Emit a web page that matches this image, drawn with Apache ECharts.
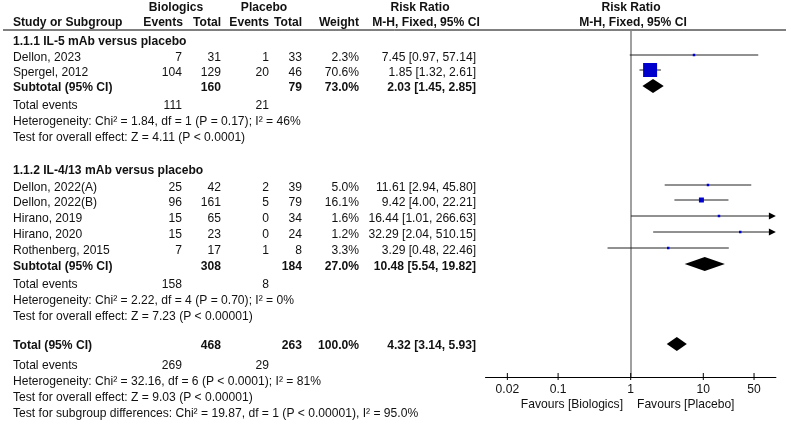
<!DOCTYPE html>
<html><head><meta charset="utf-8">
<script src="https://cdn.jsdelivr.net/npm/echarts@6/dist/echarts.min.js"></script>
<style>html,body{margin:0;padding:0;background:#fff}#c{width:790px;height:423px}</style>
</head><body><div id="c"></div><script>
// ---------- data ----------
const groupTitles = ['1.1.1 IL-5 mAb versus placebo', '1.1.2 IL-4/13 mAb versus placebo'];
const studyNames = ['Dellon, 2023', 'Spergel, 2012', 'Dellon, 2022(A)', 'Dellon, 2022(B)', 'Hirano, 2019', 'Hirano, 2020', 'Rothenberg, 2015'];
const studyGroup = [0, 0, 1, 1, 1, 1, 1];
const bioEvents = [7, 104, 25, 96, 15, 15, 7];
const bioTotal = [31, 129, 42, 161, 65, 23, 17];
const plaEvents = [1, 20, 2, 5, 0, 0, 1];
const plaTotal = [33, 46, 39, 79, 34, 24, 8];
const weights = [2.3, 70.6, 5.0, 16.1, 1.6, 1.2, 3.3];
const rr = [7.45, 1.85, 11.61, 9.42, 16.44, 32.29, 3.29];
const rrLow = [0.97, 1.32, 2.94, 4.00, 1.01, 2.04, 0.48];
const rrHigh = [57.14, 2.61, 45.80, 22.21, 266.63, 510.15, 22.46];

const subBioTotal = [160, 308];
const subPlaTotal = [79, 184];
const subWeight = [73.0, 27.0];
const subRR = [2.03, 10.48];
const subLow = [1.45, 5.54];
const subHigh = [2.85, 19.82];
const subBioEvents = [111, 158];
const subPlaEvents = [21, 8];
const subHet = ['Heterogeneity: Chi² = 1.84, df = 1 (P = 0.17); I² = 46%', 'Heterogeneity: Chi² = 2.22, df = 4 (P = 0.70); I² = 0%'];
const subTest = ['Test for overall effect: Z = 4.11 (P < 0.0001)', 'Test for overall effect: Z = 7.23 (P < 0.00001)'];

const totalBio = 468, totalPla = 263, totalWeight = 100.0;
const totalRR = 4.32, totalLow = 3.14, totalHigh = 5.93;
const totalBioEvents = 269, totalPlaEvents = 29;
const totalHet = 'Heterogeneity: Chi² = 32.16, df = 6 (P < 0.0001); I² = 81%';
const totalTest = 'Test for overall effect: Z = 9.03 (P < 0.00001)';
const subgroupTest = 'Test for subgroup differences: Chi² = 19.87, df = 1 (P < 0.00001), I² = 95.0%';

const tickValues = [0.02, 0.1, 1, 10, 50];
const tickLabels = ['0.02', '0.1', '1', '10', '50'];

// ---------- layout (pixel rows) ----------
const groupTitleY = [42, 171];
const studyRowY = [58, 73, 188, 203, 219, 235, 251];
const subtotalY = [88, 267];
const subEventsY = [106, 285];
const subHetY = [122, 301];
const subTestY = [138, 317];
const totalY = 346, totalEventsY = 366, totalHetY = 382, totalTestY = 398, subgroupY = 414;
const markShift = -3;
const diamondShift = -2;
const axisY = 377;
const col = {name: 13, bioEv: 182, bioTot: 221, plaEv: 269, plaTot: 302, weight: 359, rr: 476};
const FONT = '"Liberation Sans", Arial, sans-serif';
const FS = '12.1px ';
const TXT = '#111';

function txt(text, x, y, align, bold) {
  return {type: 'text', silent: true, x: x, y: y, z: 10,
    style: {text: String(text), fill: TXT, font: (bold ? 'bold ' : '') + FS + FONT,
      textAlign: align, textVerticalAlign: 'middle', align: align, verticalAlign: 'middle'}};
}
function fmtRR(e, l, h) { return e.toFixed(2) + ' [' + l.toFixed(2) + ', ' + h.toFixed(2) + ']'; }

const g = [];
// headers
g.push(txt('Biologics', 176, 8, 'center', true));
g.push(txt('Placebo', 264, 8, 'center', true));
g.push(txt('Risk Ratio', 420, 8, 'center', true));
g.push(txt('Risk Ratio', 631, 8, 'center', true));
g.push(txt('Study or Subgroup', col.name, 23, 'left', true));
g.push(txt('Events', col.bioEv + 1, 23, 'right', true));
g.push(txt('Total', col.bioTot, 23, 'right', true));
g.push(txt('Events', col.plaEv, 23, 'right', true));
g.push(txt('Total', col.plaTot, 23, 'right', true));
g.push(txt('Weight', col.weight, 23, 'right', true));
g.push(txt('M-H, Fixed, 95% CI', 426, 23, 'center', true));
g.push(txt('M-H, Fixed, 95% CI', 633, 23, 'center', true));
g.push({type: 'line', silent: true, shape: {x1: 3, y1: 30, x2: 786, y2: 30}, style: {stroke: '#000', lineWidth: 1}});

for (let k = 0; k < 2; k++) {
  g.push(txt(groupTitles[k], col.name, groupTitleY[k], 'left', true));
  g.push(txt('Subtotal (95% CI)', col.name, subtotalY[k], 'left', true));
  g.push(txt(subBioTotal[k], col.bioTot, subtotalY[k], 'right', true));
  g.push(txt(subPlaTotal[k], col.plaTot, subtotalY[k], 'right', true));
  g.push(txt(subWeight[k].toFixed(1) + '%', col.weight, subtotalY[k], 'right', true));
  g.push(txt(fmtRR(subRR[k], subLow[k], subHigh[k]), col.rr, subtotalY[k], 'right', true));
  g.push(txt('Total events', col.name, subEventsY[k], 'left', false));
  g.push(txt(subBioEvents[k], col.bioEv, subEventsY[k], 'right', false));
  g.push(txt(subPlaEvents[k], col.plaEv, subEventsY[k], 'right', false));
  g.push(txt(subHet[k], col.name, subHetY[k], 'left', false));
  g.push(txt(subTest[k], col.name, subTestY[k], 'left', false));
}
for (let i = 0; i < studyNames.length; i++) {
  const y = studyRowY[i];
  g.push(txt(studyNames[i], col.name, y, 'left', false));
  g.push(txt(bioEvents[i], col.bioEv, y, 'right', false));
  g.push(txt(bioTotal[i], col.bioTot, y, 'right', false));
  g.push(txt(plaEvents[i], col.plaEv, y, 'right', false));
  g.push(txt(plaTotal[i], col.plaTot, y, 'right', false));
  g.push(txt(weights[i].toFixed(1) + '%', col.weight, y, 'right', false));
  g.push(txt(fmtRR(rr[i], rrLow[i], rrHigh[i]), col.rr, y, 'right', false));
}
g.push(txt('Total (95% CI)', col.name, totalY, 'left', true));
g.push(txt(totalBio, col.bioTot, totalY, 'right', true));
g.push(txt(totalPla, col.plaTot, totalY, 'right', true));
g.push(txt(totalWeight.toFixed(1) + '%', col.weight, totalY, 'right', true));
g.push(txt(fmtRR(totalRR, totalLow, totalHigh), col.rr, totalY, 'right', true));
g.push(txt('Total events', col.name, totalEventsY, 'left', false));
g.push(txt(totalBioEvents, col.bioEv, totalEventsY, 'right', false));
g.push(txt(totalPlaEvents, col.plaEv, totalEventsY, 'right', false));
g.push(txt(totalHet, col.name, totalHetY, 'left', false));
g.push(txt(totalTest, col.name, totalTestY, 'left', false));
g.push(txt(subgroupTest, col.name, subgroupY, 'left', false));
g.push(txt('Favours [Biologics]', 623, 405, 'right', false));
g.push(txt('Favours [Placebo]', 637, 405, 'left', false));

// ---------- series data ----------
const studyData = studyNames.map((n, i) => [rr[i], studyRowY[i] + markShift, rrLow[i], rrHigh[i], weights[i]]);
const diamondData = [
  [subRR[0], subtotalY[0] + diamondShift, subLow[0], subHigh[0]],
  [subRR[1], subtotalY[1] + markShift, subLow[1], subHigh[1]],
  [totalRR, totalY + diamondShift, totalLow, totalHigh]
];
const tickData = tickValues.map((v, i) => [v, axisY, i]);
const XMIN = 0.01, XMAX = 100;

const chart = echarts.init(document.getElementById('c'), null, {renderer: 'canvas'});
chart.setOption({
  animation: false,
  backgroundColor: '#fff',
  grid: {left: 485.5, right: 14.1, top: 30, bottom: 423 - axisY, containLabel: false},
  xAxis: {type: 'log', logBase: 10, min: XMIN, max: XMAX,
    axisLine: {show: true, lineStyle: {color: '#000', width: 1}},
    axisTick: {show: false}, axisLabel: {show: false}, splitLine: {show: false}, minorTick: {show: false}},
  yAxis: {type: 'value', min: 30, max: axisY, inverse: true, show: false},
  graphic: g,
  series: [
    {
      type: 'custom', name: 'studies', clip: false, z: 5,
      data: studyData,
      renderItem: function (params, api) {
        const est = api.value(0), y = api.value(1), lo = api.value(2), hi = api.value(3), w = api.value(4);
        const pLo = api.coord([Math.max(lo, XMIN), y]);
        const pHi = api.coord([Math.min(hi, XMAX), y]);
        const pC = api.coord([est, y]);
        const children = [];
        const over = hi > XMAX;
        const endX = over ? pHi[0] - 6 : pHi[0];
        children.push({type: 'line', shape: {x1: pLo[0], y1: pLo[1], x2: endX, y2: pHi[1]}, style: {stroke: '#222', lineWidth: 1}});
        if (over) {
          children.push({type: 'polygon', shape: {points: [[pHi[0], pHi[1]], [pHi[0] - 7, pHi[1] - 3.5], [pHi[0] - 7, pHi[1] + 3.5]]}, style: {fill: '#000'}});
        }
        const s = Math.max(2.5, 14 * Math.pow(w / 70.6, 0.7));
        children.push({type: 'rect', shape: {x: pC[0] - s / 2, y: pC[1] - s / 2, width: s, height: s}, style: {fill: '#0000cd'}});
        return {type: 'group', children: children};
      }
    },
    {
      type: 'custom', name: 'pooled', clip: false, z: 5,
      data: diamondData,
      renderItem: function (params, api) {
        const y = api.value(1);
        const pC = api.coord([api.value(0), y]);
        const pLo = api.coord([api.value(2), y]);
        const pHi = api.coord([api.value(3), y]);
        const h = 7;
        return {type: 'polygon', shape: {points: [[pLo[0], pC[1]], [pC[0], pC[1] - h], [pHi[0], pC[1]], [pC[0], pC[1] + h]]}, style: {fill: '#000'}};
      },
      markLine: {
        silent: true, symbol: 'none', animation: false, z: 1,
        label: {show: false},
        lineStyle: {color: '#808080', width: 1.5, type: 'solid'},
        data: [{xAxis: 1}]
      }
    },
    {
      type: 'custom', name: 'ticks', clip: false, z: 6,
      data: tickData,
      renderItem: function (params, api) {
        const p = api.coord([api.value(0), api.value(1)]);
        const label = tickLabels[api.value(2)];
        return {type: 'group', children: [
          {type: 'line', shape: {x1: p[0], y1: p[1] - 4, x2: p[0], y2: p[1] + 3}, style: {stroke: '#000', lineWidth: 1}},
          {type: 'text', x: p[0], y: p[1] + 13, style: {text: label, fill: TXT, font: FS + FONT, textAlign: 'center', textVerticalAlign: 'middle', align: 'center', verticalAlign: 'middle'}}
        ]};
      }
    }
  ]
});
</script></body></html>
